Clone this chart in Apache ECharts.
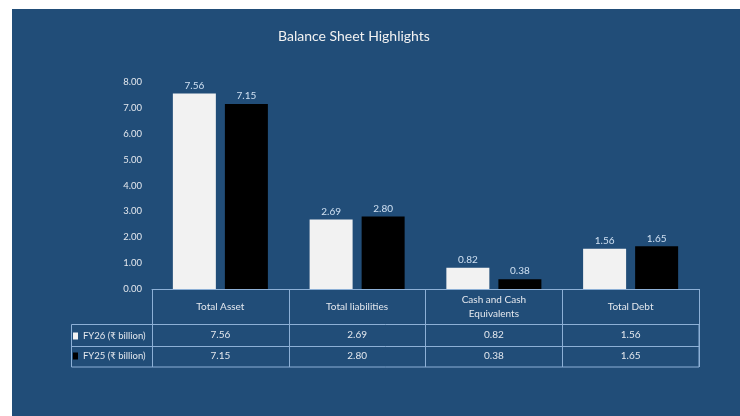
<!DOCTYPE html>
<html>
<head>
<meta charset="utf-8">
<script src="https://cdn.jsdelivr.net/npm/echarts@6/dist/echarts.min.js"></script>
<style>
  html, body { margin: 0; padding: 0; background: #ffffff; }
  #bg { position: absolute; left: 12px; top: 9px; width: 728px; height: 407px; background: #214D78; }
  #chart { position: absolute; left: 0; top: 0; width: 740px; height: 416px; }
</style>
</head>
<body>
<div id="bg"></div>
<div id="chart"></div>
<script>
// ---- data ----
const categories = ['Total Asset', 'Total liabilities', 'Cash and Cash\nEquivalents', 'Total Debt'];
const seriesNames = ['FY26 (₹ billion)', 'FY25 (₹ billion)'];
const fy26 = [7.56, 2.69, 0.82, 1.56];
const fy25 = [7.15, 2.80, 0.38, 1.65];
const yMin = 0, yMax = 8, yStep = 1;

// ---- style ----
const lineColor = '#8DB0D6';
const textColor = '#E4E8EE';
const font = 'Lato, "DejaVu Sans", sans-serif';

const chart = echarts.init(document.getElementById('chart'), null, { renderer: 'canvas' });

function valueAxis(values, margin) {
  return {
    type: 'category', data: categories, gridIndex: 0, position: 'bottom',
    axisLine: { show: false }, axisTick: { show: false },
    axisLabel: {
      interval: 0, margin: margin, verticalAlign: 'middle',
      color: textColor, fontFamily: font, fontSize: 10,
      formatter: function (v, i) { return values[i].toFixed(2); }
    }
  };
}

chart.setOption({
  backgroundColor: 'transparent',
  animation: false,
  title: {
    text: 'Balance Sheet Highlights',
    left: 273, top: 24,
    textStyle: { color: '#F2F2F2', fontFamily: font, fontSize: 14, fontWeight: 'normal' }
  },
  legend: {
    orient: 'vertical', left: 73, top: 331, padding: 0,
    itemWidth: 5, itemHeight: 7, itemGap: 10,
    icon: 'rect',
    textStyle: { color: textColor, fontFamily: font, fontSize: 9.5 },
    data: seriesNames
  },
  grid: { left: 152, right: 41, top: 82, bottom: 127 },
  xAxis: [
    {
      type: 'category', data: categories, position: 'bottom',
      axisLine: { show: true, lineStyle: { color: lineColor, width: 1 } },
      axisTick: { show: true, length: 78, alignWithLabel: false, lineStyle: { color: lineColor, width: 1 } },
      axisLabel: {
        interval: 0, margin: 18, verticalAlign: 'middle', lineHeight: 14,
        color: textColor, fontFamily: font, fontSize: 10
      }
    },
    valueAxis(fy26, 46),
    valueAxis(fy25, 67)
  ],
  yAxis: {
    type: 'value', min: yMin, max: yMax, interval: yStep,
    axisLine: { show: false }, axisTick: { show: false }, splitLine: { show: false },
    axisLabel: {
      margin: 10, color: textColor, fontFamily: font, fontSize: 9.5,
      formatter: function (v) { return v.toFixed(2); }
    }
  },
  series: [
    {
      name: seriesNames[0], type: 'bar', data: fy26, barWidth: 43, barGap: '21%',
      itemStyle: { color: '#F2F2F2' },
      label: { show: true, position: 'top', distance: 3, color: '#CFE0F2', fontFamily: font, fontSize: 10,
               formatter: function (p) { return p.value.toFixed(2); } }
    },
    {
      name: seriesNames[1], type: 'bar', data: fy25, barWidth: 43, barGap: '21%',
      itemStyle: { color: '#000000' },
      label: { show: true, position: 'top', distance: 3, color: '#CFE0F2', fontFamily: font, fontSize: 10,
               formatter: function (p) { return p.value.toFixed(2); } }
    }
  ],
  graphic: [
    { type: 'rect', silent: true, shape: { x: 71.5, y: 324.5, width: 627.5, height: 42.5 },
      style: { fill: 'none', stroke: lineColor, lineWidth: 1 } },
    { type: 'line', silent: true, shape: { x1: 71.5, y1: 346.5, x2: 699, y2: 346.5 },
      style: { stroke: lineColor, lineWidth: 1 } }
  ]
});
</script>
</body>
</html>
